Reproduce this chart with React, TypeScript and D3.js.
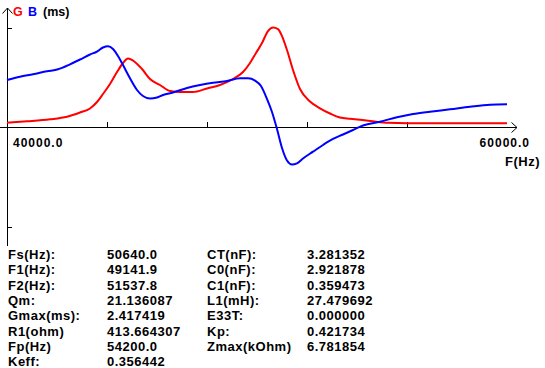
import React from "react";
import * as d3 from "d3";

const freqG = [40000, 40800, 41720, 42400, 42920, 43320, 43600, 43840, 44120, 44400, 44640, 44840, 45040, 45400, 45720, 46120, 46520, 46920, 47440, 48000, 48520, 49040, 49440, 49720, 49960, 50200, 50440, 50640, 50840, 51000, 51200, 51440, 51720, 52120, 52520, 52920, 53320, 53720, 54120, 54640, 55240, 56800, 60000];
const gValues = [0.104, 0.138, 0.187, 0.25, 0.352, 0.449, 0.607, 0.802, 1.044, 1.336, 1.555, 1.664, 1.615, 1.409, 1.166, 1.02, 0.874, 0.85, 0.85, 0.935, 1.02, 1.166, 1.336, 1.555, 1.797, 2.04, 2.332, 2.417, 2.38, 2.21, 1.87, 1.385, 0.923, 0.619, 0.454, 0.328, 0.231, 0.202, 0.177, 0.138, 0.104, 0.09, 0.09];

const freqB = [40000, 40520, 41040, 41600, 42040, 42520, 42920, 43320, 43600, 43840, 44040, 44240, 44440, 44640, 44920, 45200, 45440, 45720, 46000, 46240, 46640, 47200, 47720, 48240, 48800, 49320, 49640, 49920, 50160, 50400, 50600, 50800, 51000, 51200, 51400, 51600, 51840, 52240, 52640, 53040, 53440, 53840, 54240, 54920, 55600, 56240, 56920, 57720, 58520, 59320, 60000];
const bValues = [1.142, 1.222, 1.28, 1.353, 1.402, 1.523, 1.64, 1.761, 1.834, 1.931, 1.96, 1.895, 1.725, 1.506, 1.183, 0.899, 0.753, 0.692, 0.717, 0.777, 0.838, 0.947, 1.02, 1.076, 1.117, 1.183, 1.183, 1.129, 0.996, 0.68, 0.364, -0.049, -0.51, -0.814, -0.911, -0.882, -0.765, -0.6, -0.437, -0.291, -0.182, -0.073, 0.036, 0.129, 0.236, 0.316, 0.372, 0.43, 0.493, 0.542, 0.551];

const xTickValues = [44000, 48000, 52000, 56000];
const gMax = 2.417419;
const yTickValues = [gMax, -gMax];
const xDomain = [40000, 60000];
const xMinLabel = "40000.0";
const xMaxLabel = "60000.0";
const xAxisTitle = "F(Hz)";

const tableLabels1 = ["Fs(Hz):", "F1(Hz):", "F2(Hz):", "Qm:", "Gmax(ms):", "R1(ohm)", "Fp(Hz)", "Keff:"];
const tableValues1 = ["50640.0", "49141.9", "51537.8", "21.136087", "2.417419", "413.664307", "54200.0", "0.356442"];
const tableLabels2 = ["CT(nF):", "C0(nF):", "C1(nF):", "L1(mH):", "E33T:", "Kp:", "Zmax(kOhm)"];
const tableValues2 = ["3.281352", "2.921878", "0.359473", "27.479692", "0.000000", "0.421734", "6.781854"];

const FONT = "'Liberation Sans', Arial, sans-serif";

export default function App() {
  const W = 545, H = 368;
  const x = d3.scaleLinear().domain(xDomain).range([7, 507]);
  const y = d3.scaleLinear().domain([-gMax, gMax]).range([226.5, 27.5]);
  const y0 = Math.round(y(0));
  const lineG = d3.line<number>().x((_, i) => x(freqG[i])).y((d) => y(d)).curve(d3.curveMonotoneX);
  const lineB = d3.line<number>().x((_, i) => x(freqB[i])).y((d) => y(d)).curve(d3.curveMonotoneX);
  const rowY = (i: number) => 258.8 + i * 15.35;
  const tStyle = { fontFamily: FONT, fontWeight: 700, fontSize: 13, letterSpacing: 0.5 } as React.CSSProperties;

  return (
    <svg width={W} height={H} style={{ position: "absolute", left: 0, top: 0, background: "#fff" }}>
      <rect x={0} y={0} width={W} height={H} fill="#fff" />
      <g stroke="#000" strokeWidth={1} fill="none" shapeRendering="crispEdges">
        <line x1={7.5} y1={8} x2={7.5} y2={246} />
        <line x1={0} y1={y0 + 0.5} x2={517} y2={y0 + 0.5} />
        {xTickValues.map((t) => (
          <line key={t} x1={Math.round(x(t)) + 0.5} x2={Math.round(x(t)) + 0.5} y1={y0 - 5} y2={y0} />
        ))}
        {yTickValues.map((t) => (
          <line key={t} x1={7} x2={12} y1={Math.round(y(t)) + 0.5} y2={Math.round(y(t)) + 0.5} />
        ))}
      </g>
      <g stroke="#000" strokeWidth={1} fill="none">
        <polyline points={`2.5,13.5 7.5,8 12.5,13.5`} />
        <polyline points={`511.5,${y0 - 4.5} 517,${y0 + 0.5} 511.5,${y0 + 5.5}`} />
      </g>
      <path d={lineG(gValues) || ""} fill="none" stroke="#ff0000" strokeWidth={2} />
      <path d={lineB(bValues) || ""} fill="none" stroke="#0000ff" strokeWidth={2} />
      <text x={13} y={16} style={{ fontFamily: FONT, fontWeight: 700, fontSize: 12.5 }}>
        <tspan fill="#ff0000">G</tspan>
        <tspan fill="#0000ff" x={28}>B</tspan>
        <tspan fill="#000" x={43}>(ms)</tspan>
      </text>
      <text x={13} y={147} style={{ ...tStyle, fontSize: 12, letterSpacing: 1 }}>{xMinLabel}</text>
      <text x={530} y={147} textAnchor="end" style={{ ...tStyle, fontSize: 12, letterSpacing: 1 }}>{xMaxLabel}</text>
      <text x={540} y={166} textAnchor="end" style={{ ...tStyle, fontSize: 13 }}>{xAxisTitle}</text>
      {tableLabels1.map((l, i) => (
        <text key={"l1" + i} x={8} y={rowY(i)} style={tStyle}>{l}</text>
      ))}
      {tableValues1.map((v, i) => (
        <text key={"v1" + i} x={107} y={rowY(i)} style={tStyle}>{v}</text>
      ))}
      {tableLabels2.map((l, i) => (
        <text key={"l2" + i} x={207} y={rowY(i)} style={tStyle}>{l}</text>
      ))}
      {tableValues2.map((v, i) => (
        <text key={"v2" + i} x={307} y={rowY(i)} style={tStyle}>{v}</text>
      ))}
    </svg>
  );
}
